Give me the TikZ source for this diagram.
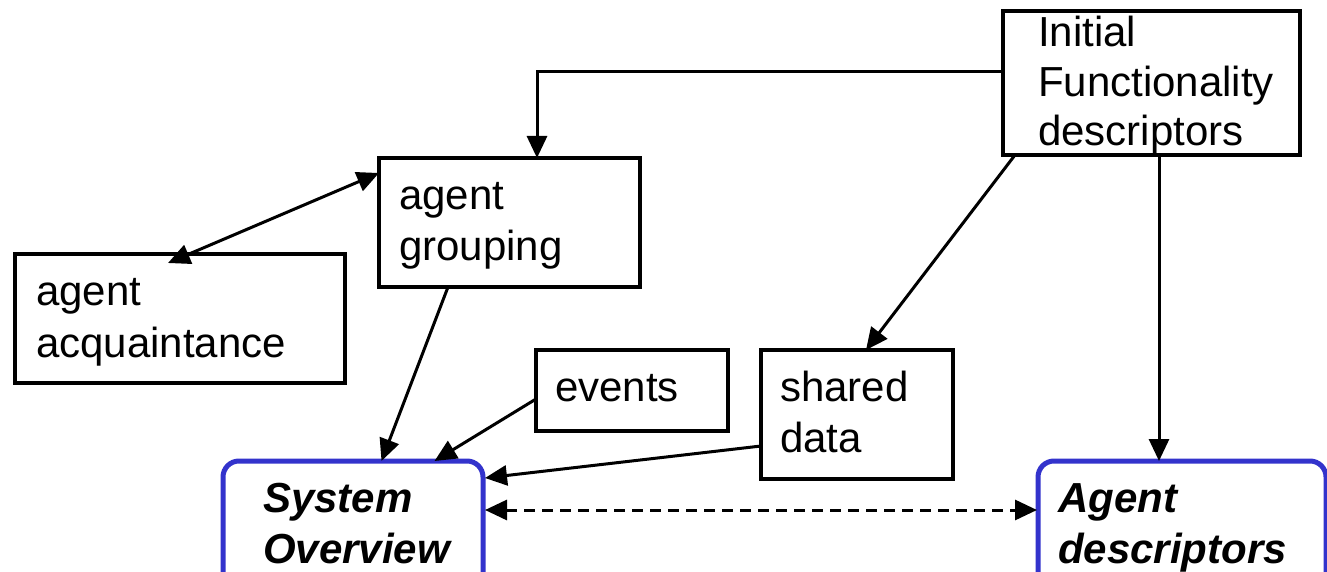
\documentclass[tikz,border=0pt]{standalone}
\usepackage{fontspec}
\setmainfont{Liberation Sans}
\usetikzlibrary{arrows.meta}
\definecolor{boxblue}{RGB}{51,51,204}
\begin{document}
\begin{tikzpicture}[x=1pt,y=-1pt,
  box/.style={draw,line width=3.2pt,rectangle,inner sep=0pt,outer sep=0pt,anchor=north west},
  bluebox/.style={draw=boxblue,line width=5pt,rectangle,rounded corners=16pt,inner sep=0pt,outer sep=0pt,anchor=north west},
  lbl/.style={anchor=base west,inner sep=0pt,outer sep=0pt,font=\fontsize{42}{50}\selectfont},
  blbl/.style={anchor=base west,inner sep=0pt,outer sep=0pt,font=\fontsize{42}{50}\selectfont\bfseries\itshape},
  conn/.style={line width=3pt,-{Triangle[length=22pt,width=20pt]}},
  bconn/.style={line width=3pt,{Triangle[length=22pt,width=20pt]}-{Triangle[length=22pt,width=20pt]}}
]
\useasboundingbox (0,0) rectangle (1327,572);
\clip (0,0) rectangle (1327,572);

% boxes
\node[box,minimum width=297pt,minimum height=144pt] (init) at (1003,11) {};
\node[box,minimum width=261pt,minimum height=129pt] (grp) at (379,158) {};
\node[box,minimum width=330pt,minimum height=129pt] (acq) at (15,254) {};
\node[box,minimum width=192pt,minimum height=81pt] (ev) at (536,350) {};
\node[box,minimum width=192pt,minimum height=129pt] (sd) at (761,350) {};
\node[bluebox,minimum width=260pt,minimum height=150pt] (so) at (223,461) {};
\node[bluebox,minimum width=288pt,minimum height=150pt] (ad) at (1038,461) {};

% labels
\node[lbl] (t1) at (1038,47) {Initial};
\node[lbl] (t2) at (1038,97) {Functionality};
\node[lbl] (t3) at (1038,146) {descriptors};
\node[lbl] (t4) at (399,210) {agent};
\node[lbl] (t5) at (399,260) {grouping};
\node[lbl] (t6) at (36,305) {agent};
\node[lbl] (t7) at (36,357) {acquaintance};
\node[lbl] (t8) at (555,401) {events};
\node[lbl] (t9) at (780,401) {shared};
\node[lbl] (t10) at (780,452) {data};
\node[blbl] (t11) at (263,512) {System};
\node[blbl] (t12) at (263,563) {Overview};
\node[blbl] (t13) at (1058,512) {Agent};
\node[blbl] (t14) at (1058,563) {descriptors};

% connectors
\draw[conn] ([yshift=11pt]init.west) -| ([xshift=27.5pt]grp.north);
\draw[bconn] ([yshift=-15pt]grp.north west) -- ([xshift=-12pt,yshift=-9pt]acq.north);
\draw[conn] ([xshift=-61.5pt]grp.south) -- ([xshift=28.5pt]so.north);
\draw[conn] ([yshift=-8.5pt]ev.west) -- ([xshift=81.5pt]so.north);
\draw[conn] ([yshift=-31.5pt]sd.west) -- ([xshift=2pt,yshift=-17pt]so.north east);
\draw[conn] ([xshift=12pt]init.south west) -- ([xshift=9pt]sd.north);
\draw[conn] ([xshift=7.5pt]init.south) -- ([xshift=7.5pt]init.south |- ad.north);
\draw[bconn,dash pattern=on 11pt off 7pt] ([xshift=2pt,yshift=-49pt]so.north east) -- ([xshift=-1pt,yshift=-49pt]ad.north west);
\end{tikzpicture}
\end{document}
